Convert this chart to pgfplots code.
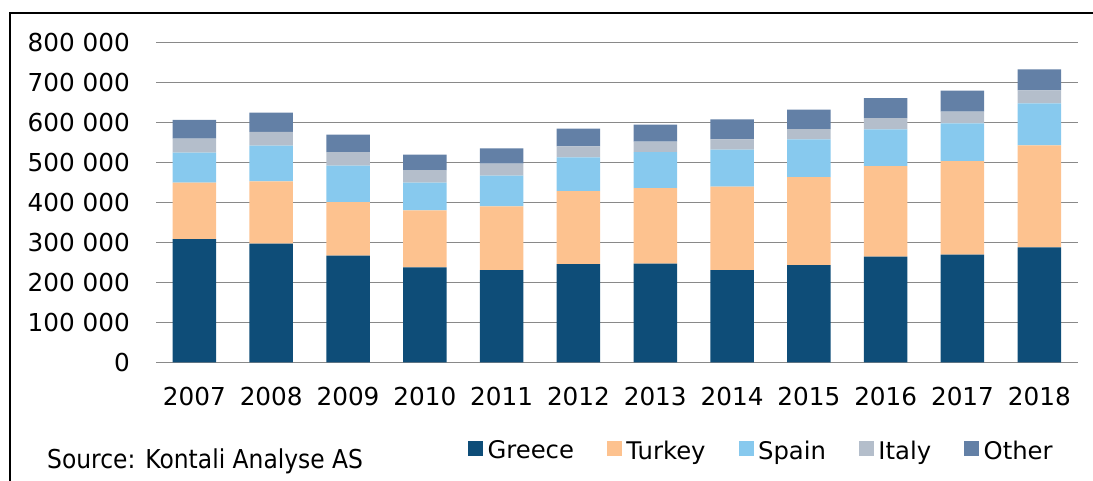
\documentclass[border=0pt]{standalone}
\usepackage{fontspec}
\setmainfont{DejaVu Sans}
\newfontfamily\srcfont[FakeStretch=0.9]{DejaVu Sans}
\usepackage{pgfplots}
\pgfplotsset{compat=1.18}
\usepackage{pgfplotstable}
\definecolor{cGreece}{RGB}{14,77,120}
\definecolor{cTurkey}{RGB}{253,194,143}
\definecolor{cSpain}{RGB}{135,201,238}
\definecolor{cItaly}{RGB}{180,190,203}
\definecolor{cOther}{RGB}{99,128,166}
\definecolor{gridgray}{RGB}{137,137,137}

\pgfplotstableread{
x G T S I O
0 308000 141000 75000 35000 47000
1 296500 156000 89000 34500 48000
2 266500 134000 91000 34000 43500
3 237500 142500 69000 31750 38500
4 230750 159250 76500 30000 38500
5 245750 182500 84250 27500 44000
6 246500 189250 90000 25750 42500
7 230750 208250 92500 26000 50000
8 243250 220000 94250 25750 48250
9 264000 226750 91750 28250 50000
10 269000 234250 94250 29000 52500
11 287500 255000 105000 32500 52500
}\datatable

\begin{document}
\begin{tikzpicture}
\begin{axis}[
  at={(156bp,118.7bp)}, anchor=south west,
  scale only axis, width=921.7bp, height=320bp,
  ybar stacked, bar width=43.5bp,
  xmin=-0.5, xmax=11.5, ymin=0, ymax=800000,
  xtick=data,
  xticklabels={2007,2008,2009,2010,2011,2012,2013,2014,2015,2016,2017,2018},
  ytick={0,100000,200000,300000,400000,500000,600000,700000,800000},
  yticklabels={0,100 000,200 000,300 000,400 000,500 000,600 000,700 000,800 000},
  ymajorgrids, grid style={color=gridgray, line width=1.5bp},
  axis line style={draw=none},
  major tick length=0pt,
  scaled y ticks=false,
  tick label style={font=\fontsize{24.7bp}{29bp}\selectfont},
  yticklabel style={anchor=east, inner sep=0pt, xshift=-26bp},
  xticklabel style={anchor=north, inner sep=0pt, yshift=-24.5bp},
  legend columns=5,
  legend image code/.code={\path[#1, draw=none] (0bp,-5.4bp) rectangle (15bp,9.6bp);},
  legend style={at={(0.3385,-0.276)}, anchor=west, draw=none, fill=none,
    inner sep=0pt, outer sep=0pt, nodes={inner sep=0pt},
    font=\fontsize{24.3bp}{29bp}\selectfont,
    /tikz/every odd column/.append style={column sep=4.5bp},
    /tikz/every even column/.append style={column sep=33bp}},
  legend cell align=left,
]
\addplot[fill=cGreece, draw=none] table[x=x, y=G] {\datatable};
\addplot[fill=cTurkey, draw=none] table[x=x, y=T] {\datatable};
\addplot[fill=cSpain, draw=none] table[x=x, y=S] {\datatable};
\addplot[fill=cItaly, draw=none] table[x=x, y=I] {\datatable};
\addplot[fill=cOther, draw=none] table[x=x, y=O] {\datatable};
\legend{Greece,Turkey,Spain,Italy,Other}
\end{axis}
\node[anchor=base west, inner sep=0pt, font=\srcfont\fontsize{26bp}{30bp}\selectfont] at (47bp,13bp) {Source: Kontali Analyse AS};
\draw[line width=1.5bp] (10bp,0bp) -- (10bp,468bp) -- (1093bp,468bp);
\pgfresetboundingbox
\useasboundingbox (0,0) rectangle (1093bp,481bp);
\end{tikzpicture}
\end{document}
